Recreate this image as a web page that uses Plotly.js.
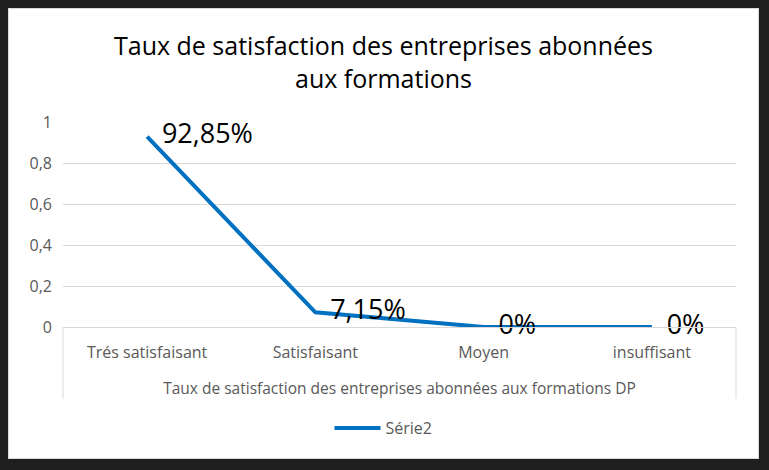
<!DOCTYPE html>
<html>
<head>
<meta charset="utf-8">
<script src="https://cdn.plot.ly/plotly-3.0.1.min.js"></script>
<style>
html,body{margin:0;padding:0;background:#1e1e1e;width:769px;height:470px;overflow:hidden;}
#chart{position:absolute;left:9px;top:9px;width:749px;height:449px;background:#fff;outline:1px solid #d9d9d9;}
</style>
</head>
<body>
<div id="chart"></div>
<script>
const categories = ["Trés satisfaisant", "Satisfaisant", "Moyen", "insuffisant"];
const serie2 = [0.9285, 0.0715, 0, 0];
const seriesName = "Série2";
const yTicks = [0, 0.2, 0.4, 0.6, 0.8, 1];
const chartTitle = "Taux de satisfaction des entreprises abonnées<br>aux formations";
const groupLabel = "Taux de satisfaction des entreprises abonnées aux formations DP";

const labels = serie2.map(v => String(+(v * 100).toFixed(2)).replace('.', ',') + '%');

const font = "'Open Sans', 'Noto Sans', sans-serif";
const grey = "#595959";

const trace = {
  x: categories,
  y: serie2,
  name: seriesName,
  type: 'scatter',
  mode: 'lines+markers+text',
  line: {color: '#0070C0', width: 4},
  marker: {size: 22, color: 'rgba(0,0,0,0)'},
  text: labels,
  textposition: 'middle right',
  textfont: {family: font, size: 27, color: '#000'},
  cliponaxis: false,
  showlegend: true
};

const layout = {
  width: 749, height: 449,
  paper_bgcolor: '#fff', plot_bgcolor: '#fff',
  separators: ', ',
  margin: {l: 54, r: 22, t: 113, b: 131},
  font: {family: font, color: grey},
  title: {
    text: chartTitle,
    font: {family: font, size: 25, color: '#000'},
    x: 0.5, xanchor: 'center',
    y: 1 - 46 / 449, yanchor: 'top', yref: 'container'
  },
  xaxis: {
    type: 'category',
    showline: true, linecolor: '#d9d9d9', linewidth: 1,
    showgrid: false, zeroline: false,
    ticks: '',
    tickfont: {family: font, size: 16, color: grey},
    ticklabelstandoff: 11,
    title: {text: groupLabel, font: {family: font, size: 15.5, color: grey}, standoff: 20},
    range: [-0.5, 3.5]
  },
  yaxis: {
    range: [0, 1],
    tickvals: yTicks,
    showgrid: true, gridcolor: '#d9d9d9', gridwidth: 1,
    zeroline: false, showline: false,
    ticks: '',
    tickfont: {family: font, size: 16, color: grey},
    ticklabelstandoff: 10
  },
  legend: {
    orientation: 'h',
    x: 0.5, xanchor: 'center',
    xref: 'container',
    yref: 'container', y: 1 - 419 / 449, yanchor: 'middle',
    itemwidth: 46,
    font: {family: font, size: 16, color: grey}
  },
  shapes: [
    {type: 'line', xref: 'paper', yref: 'paper', x0: 0, x1: 0, y0: 0, y1: -0.35, line: {color: '#d9d9d9', width: 1}},
    {type: 'line', xref: 'paper', yref: 'paper', x0: 1, x1: 1, y0: 0, y1: -0.35, line: {color: '#d9d9d9', width: 1}}
  ]
};

Plotly.newPlot('chart', [trace], layout, {displayModeBar: false, staticPlot: true});
</script>
</body>
</html>
